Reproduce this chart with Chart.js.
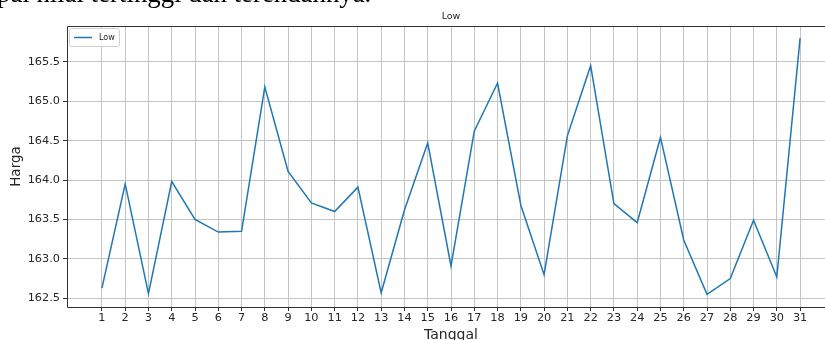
<!DOCTYPE html>
<html>
<head>
<meta charset="utf-8">
<script src="https://cdn.jsdelivr.net/npm/chart.js@4/dist/chart.umd.min.js"></script>
<style>
  html, body { margin: 0; padding: 0; background: #fff; overflow: hidden; }
  #wrap { position: relative; width: 825px; height: 340px; overflow: hidden; }
  #chartBox { position: absolute; left: 0; top: 0; width: 845px; height: 340px; }
  #note {
    position: absolute; left: -3px; top: -20px; white-space: nowrap;
    font-family: "Liberation Serif", serif; font-size: 26.8px; line-height: 26px; color: #000;
  }
</style>
</head>
<body>
<div id="wrap">
  <div id="chartBox"><canvas id="chartCanvas" width="845" height="340"></canvas></div>
  <div id="note">pai nilai tertinggi dan terendahnya.</div>
</div>
<script>
    // Data
    const days = [1, 2, 3, 4, 5, 6, 7, 8, 9, 10, 11, 12, 13, 14, 15, 16, 17, 18, 19, 20, 21, 22, 23, 24, 25, 26, 27, 28, 29, 30, 31];
    const low = [162.63, 163.95, 162.56, 163.98, 163.50, 163.34, 163.35, 165.18, 164.11, 163.71,
                 163.60, 163.91, 162.57, 163.62, 164.47, 162.91, 164.62, 165.23, 163.68, 162.80,
                 164.56, 165.45, 163.70, 163.46, 164.54, 163.24, 162.55, 162.75, 163.49, 162.77, 165.80];
    const yTicks = [162.5, 163.0, 163.5, 164.0, 164.5, 165.0, 165.5];
    const xTicks = days;

    const lineColor = '#1f77b4';
    const textColor = '#262626';
    const gridColor = '#c4c4c4';
    const font = 'DejaVu Sans';

    // Frame, title and legend drawn like matplotlib
    const decorPlugin = {
      id: 'decor',
      afterDraw(chart) {
        const { ctx, chartArea: a } = chart;
        ctx.save();
        ctx.strokeStyle = '#333';
        ctx.lineWidth = 1;
        ctx.beginPath();
        ctx.moveTo(a.right, a.top + 0.5);
        ctx.lineTo(a.left + 0.5, a.top + 0.5);
        ctx.lineTo(a.left + 0.5, a.bottom + 0.5);
        ctx.lineTo(a.right, a.bottom + 0.5);
        ctx.stroke();

        // title
        ctx.fillStyle = textColor;
        ctx.font = '9.5px "' + font + '"';
        ctx.textAlign = 'center';
        ctx.textBaseline = 'middle';
        ctx.fillText('Low', (a.left + a.right) / 2, 16.5);

        // legend
        const lx = a.left + 2, ly = a.top + 2, lw = 50, lh = 18;
        ctx.fillStyle = 'rgba(255,255,255,0.85)';
        ctx.strokeStyle = '#d0d0d0';
        ctx.beginPath();
        ctx.roundRect(lx + 0.5, ly + 0.5, lw, lh, 2);
        ctx.fill();
        ctx.stroke();
        ctx.strokeStyle = lineColor;
        ctx.lineWidth = 1.5;
        ctx.beginPath();
        ctx.moveTo(lx + 5, ly + 9.5);
        ctx.lineTo(lx + 23, ly + 9.5);
        ctx.stroke();
        ctx.fillStyle = textColor;
        ctx.font = '8px "' + font + '"';
        ctx.textAlign = 'left';
        ctx.fillText('Low', lx + 30, ly + 10);
        ctx.restore();
      }
    };

    const ctx = document.getElementById('chartCanvas').getContext('2d');
    const chart = new Chart(ctx, {
      type: 'line',
      data: {
        datasets: [{
          label: 'Low',
          data: days.map((d, i) => ({ x: d, y: low[i] })),
          borderColor: lineColor,
          borderWidth: 1.5,
          pointRadius: 0,
          tension: 0,
          fill: false
        }]
      },
      options: {
        responsive: false,
        animation: false,
        devicePixelRatio: 1,
        layout: { padding: { top: 26, right: 10, left: 0, bottom: 0 } },
        plugins: {
          legend: { display: false },
          title: { display: false },
          tooltip: { enabled: false }
        },
        scales: {
          x: {
            type: 'linear',
            min: -0.5,
            max: 32.5,
            afterBuildTicks: s => { s.ticks = xTicks.map(v => ({ value: v })); },
            afterFit: s => { s.height = 33; },
            grid: { color: gridColor, lineWidth: 1, tickColor: '#333', tickLength: 4 },
            border: { display: false },
            ticks: {
              color: textColor, padding: 0, maxRotation: 0, autoSkip: false,
              font: { family: font, size: 11.3 },
              callback: v => String(v)
            },
            title: {
              display: true, text: 'Tanggal', color: textColor,
              font: { family: font, size: 14 }, padding: { top: 0, bottom: -4 }
            }
          },
          y: {
            min: 162.39,
            max: 165.953,
            afterBuildTicks: s => { s.ticks = yTicks.map(v => ({ value: v })); },
            afterFit: s => { s.width = 67; },
            grid: { color: gridColor, lineWidth: 1, tickColor: '#333', tickLength: 4 },
            border: { display: false },
            ticks: {
              color: textColor, padding: 3,
              font: { family: font, size: 11.3 },
              callback: v => v.toFixed(1)
            },
            title: {
              display: true, text: 'Harga', color: textColor,
              font: { family: font, size: 13.5 }, padding: { top: 8.5, bottom: 0 }
            }
          }
        }
      },
      plugins: [decorPlugin]
    });
</script>
</body>
</html>
